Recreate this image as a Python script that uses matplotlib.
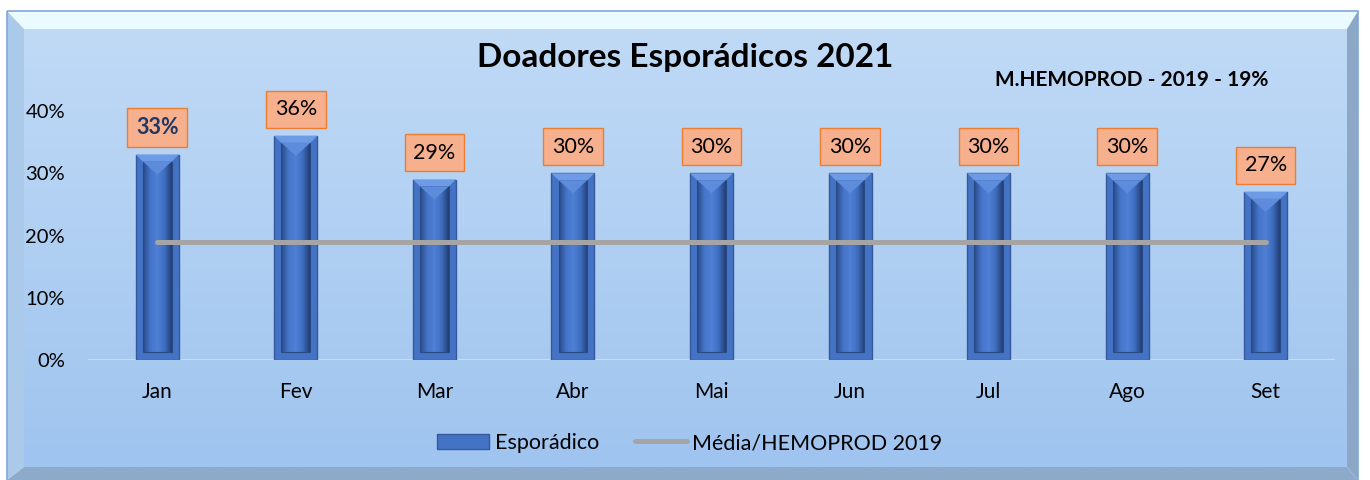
import numpy as np
import matplotlib
matplotlib.use("Agg")
import matplotlib.pyplot as plt
from matplotlib.patches import Rectangle, Polygon, Patch
from matplotlib.lines import Line2D
from matplotlib.colors import LinearSegmentedColormap

# ---------------------------------------------------------------
# Data
# ---------------------------------------------------------------
months = ["Jan", "Fev", "Mar", "Abr", "Mai", "Jun", "Jul", "Ago", "Set"]
esporadico = [0.33, 0.36, 0.29, 0.30, 0.30, 0.30, 0.30, 0.30, 0.27]
media_2019 = [0.19] * len(months)
labels = ["33%", "36%", "29%", "30%", "30%", "30%", "30%", "30%", "27%"]
title = "Doadores Esporádicos 2021"
note = "M.HEMOPROD - 2019 - 19%"

plt.rcParams['font.family'] = ['Lato', 'DejaVu Sans']

W, H = 1370, 480
fig = plt.figure(figsize=(W / 100, H / 100), dpi=100)
fig.patch.set_facecolor("white")

# ---------------------------------------------------------------
# Background panel with bevelled frame (pixel coords)
# ---------------------------------------------------------------
bg = fig.add_axes([0, 0, 1, 1], zorder=-5)
bg.set_xlim(0, W)
bg.set_ylim(H, 0)
bg.axis("off")
x0, x1, y0, y1 = 7, 1358, 11, 480
b = 17
bgrad = LinearSegmentedColormap.from_list("bg", ["#C0DAF6", "#9FC4EF"])
bg.imshow(np.linspace(0, 1, 256).reshape(-1, 1), cmap=bgrad, aspect="auto",
          extent=[x0 + b, x1 - 11, y1 - 13, y0 + 18])
bg.add_patch(Polygon([(x0, y0), (x1, y0), (x1 - 11, y0 + 18), (x0 + b, y0 + 18)],
                     closed=True, facecolor="#E9FBFF", edgecolor="none"))
bg.add_patch(Polygon([(x0, y0), (x0 + b, y0 + 18), (x0 + b, y1 - 13), (x0, y1)],
                     closed=True, facecolor="#ABCAEA", edgecolor="none"))
bg.add_patch(Polygon([(x1, y0), (x1 - 11, y0 + 18), (x1 - 11, y1 - 13), (x1, y1)],
                     closed=True, facecolor="#8DA7C7", edgecolor="none"))
bg.add_patch(Polygon([(x0, y1), (x0 + b, y1 - 13), (x1 - 11, y1 - 13), (x1, y1)],
                     closed=True, facecolor="#8EAACB", edgecolor="none"))
bg.add_patch(Rectangle((x0, y0), x1 - x0, y1 - y0 + 5, fill=False,
                       edgecolor="#7FA8DA", linewidth=1.2))

# ---------------------------------------------------------------
# Main axes
# ---------------------------------------------------------------
ax = fig.add_axes([88 / W, 1 - 360 / H, 1247 / W, 280 / H])
ax.set_facecolor("none")
for s in ax.spines.values():
    s.set_visible(False)
ax.axhline(0, color="#D9D9D9", linewidth=1.5, zorder=1)

x = np.arange(len(months))
bw = 0.31
bars = ax.bar(x, esporadico, width=bw, color="#4472C4", edgecolor="#34599C",
              linewidth=1.0, zorder=2)

# inner bevel of each bar, horizontal gradient
inner_cmap = LinearSegmentedColormap.from_list(
    "inner", ["#294B88", "#4574C8", "#4F80D6", "#3F6EC0", "#223E74"])
grad = np.linspace(0, 1, 64).reshape(1, -1)
for xi, v in zip(x, esporadico):
    iw = bw * 0.67
    bot, top = 0.013, v - 0.011
    r = Rectangle((xi - iw / 2, bot), iw, top - bot, facecolor="none",
                  edgecolor="#2A4A84", linewidth=0.8, zorder=4)
    ax.add_patch(r)
    im = ax.imshow(grad, cmap=inner_cmap, aspect="auto", zorder=3,
                   extent=[xi - iw / 2, xi + iw / 2, bot, top])
    im.set_clip_path(r)
    # lighter top band and chevron of the bevel
    ax.add_patch(Polygon([(xi - bw / 2, v), (xi + bw / 2, v),
                          (xi + iw / 2, top), (xi - iw / 2, top)],
                         closed=True, facecolor="#6E9BE6", edgecolor="none",
                         zorder=5))
    ax.add_patch(Polygon([(xi - iw / 2, top), (xi + iw / 2, top), (xi, v - 0.032)],
                         closed=True, facecolor="#5D8CDD", edgecolor="none",
                         zorder=5))

ax.set_xlim(-0.5, len(months) - 0.5)
ax.set_ylim(0, 0.45)

# average line
ax.plot(x, media_2019, color="#A5A5A5", linewidth=3.6, solid_capstyle="round",
        zorder=6)

# data labels
for i, (xi, v, lab) in enumerate(zip(x, esporadico, labels)):
    bold = i == 0
    ax.annotate(lab, (xi, v), xytext=(0, 12), textcoords="offset points",
                ha="center", va="bottom", fontsize=15.5,
                fontweight="bold" if bold else "normal",
                color="#1F3864" if bold else "black", zorder=7,
                bbox=dict(boxstyle="square,pad=0.4", facecolor="#F6B08E",
                          edgecolor="#ED7D31", linewidth=1.0))

ax.set_xticks(x)
ax.set_xticklabels(months)
ax.set_yticks([0, 0.1, 0.2, 0.3, 0.4])
ax.set_yticklabels(["0%", "10%", "20%", "30%", "40%"])
ax.tick_params(axis="both", length=0, colors="black")
ax.tick_params(axis="y", pad=16.5, labelsize=14.5)
ax.tick_params(axis="x", pad=16, labelsize=15)

# titles
fig.text(685 / W, 1 - 57 / H, title, ha="center", va="center",
         fontsize=24, fontweight="bold")
fig.text(1132 / W, 1 - 80 / H, note, ha="center", va="center",
         fontsize=15, fontweight="bold")

# legend
handles = [Patch(facecolor="#4472C4", edgecolor="#34599C"),
           Line2D([0], [0], color="#A5A5A5", linewidth=3.6,
                  solid_capstyle="round")]
fig.legend(handles, ["Esporádico", "Média/HEMOPROD 2019"], ncol=2,
           loc="center", bbox_to_anchor=(690 / W, 1 - 443 / H),
           frameon=False, fontsize=15.5, handlelength=2.4,
           handletextpad=0.27, columnspacing=1.67)

fig.savefig("out.png", dpi=100)
